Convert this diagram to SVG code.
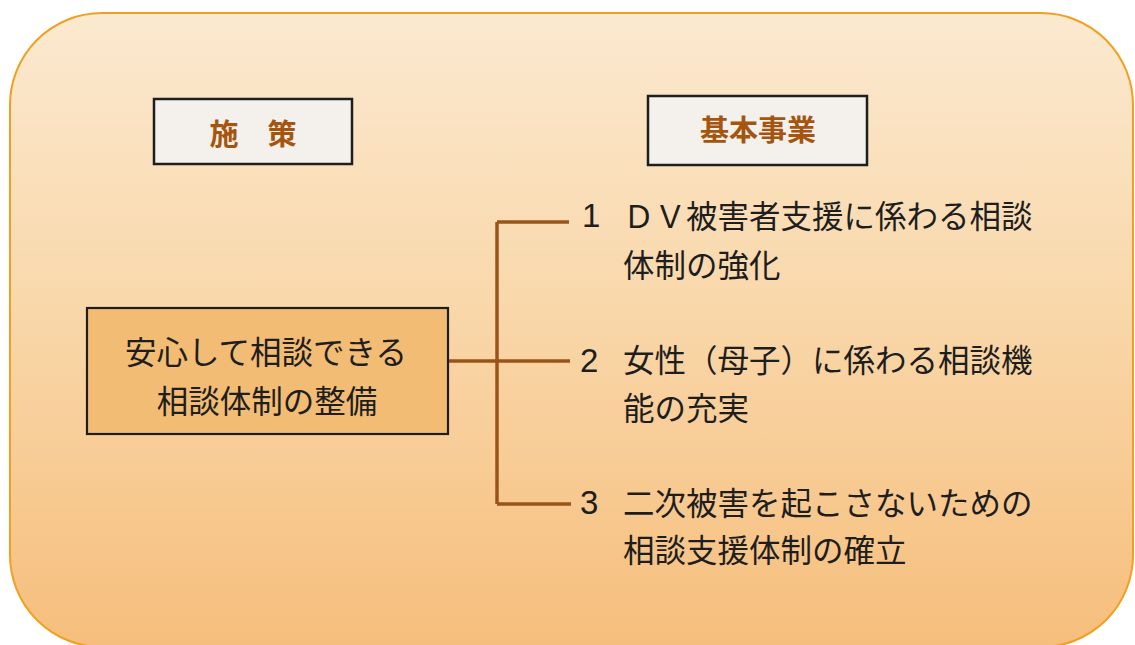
<svg xmlns="http://www.w3.org/2000/svg" width="1135" height="645" viewBox="0 0 1135 645">
<defs>
<linearGradient id="bg" x1="0" y1="0" x2="0" y2="1">
<stop offset="0" stop-color="#fbe9d0"/>
<stop offset="0.45" stop-color="#f9d8ab"/>
<stop offset="1" stop-color="#f6be7c"/>
</linearGradient>
<style>
.hdr{fill:#f4f1ec;stroke:#1e1e1e;stroke-width:2.5}
.hdrt{font-family:"Noto Sans CJK JP","Noto Sans CJK SC",sans-serif;font-size:29px;font-weight:bold;fill:#a4550f;text-anchor:middle}
.main{fill:#f3bc74;stroke:#1e1e1e;stroke-width:2.2}
.t{font-family:"Noto Sans CJK JP","Noto Sans CJK SC",sans-serif;font-size:31.5px;fill:#1e1e1e}
.num{font-family:"Liberation Sans",sans-serif;font-size:33px;fill:#1e1e1e}
.conn{fill:none;stroke:#9a5419;stroke-width:3.5}
</style>
</defs>
<rect width="1135" height="645" fill="#ffffff"/>
<rect id="panel" x="10" y="13" width="1123" height="634" rx="92" ry="92" fill="url(#bg)" stroke="#f0a020" stroke-width="2"/>

<g id="connectors">
<path class="conn" d="M497 222 V504"/>
<path class="conn" d="M497 222 H569"/>
<path class="conn" d="M448 361 H570"/>
<path class="conn" d="M497 504 H571"/>
</g>

<g id="header-policy">
<rect class="hdr" x="154" y="99" width="198" height="65"/>
<text class="hdrt" x="253" y="145">施　策</text>
</g>

<g id="header-projects">
<rect class="hdr" x="648" y="96" width="219" height="69"/>
<text class="hdrt" x="758" y="141">基本事業</text>
</g>

<g id="policy">
<rect class="main" x="87" y="308" width="361" height="126"/>
<text class="t" x="266" y="364" text-anchor="middle" font-size="31">安心して相談できる</text>
<text class="t" x="267" y="413" text-anchor="middle" font-size="31">相談体制の整備</text>
</g>

<g id="item1">
<text class="num" x="582" y="227">1</text>
<text class="t" x="623" y="228">ＤＶ被害者支援に係わる相談</text>
<text class="t" x="623" y="277">体制の強化</text>
</g>

<g id="item2">
<text class="num" x="580" y="372">2</text>
<text class="t" x="623" y="372">女性（母子）に係わる相談機</text>
<text class="t" x="623" y="420">能の充実</text>
</g>

<g id="item3">
<text class="num" x="580" y="514">3</text>
<text class="t" x="623" y="515">二次被害を起こさないための</text>
<text class="t" x="623" y="562">相談支援体制の確立</text>
</g>
</svg>
